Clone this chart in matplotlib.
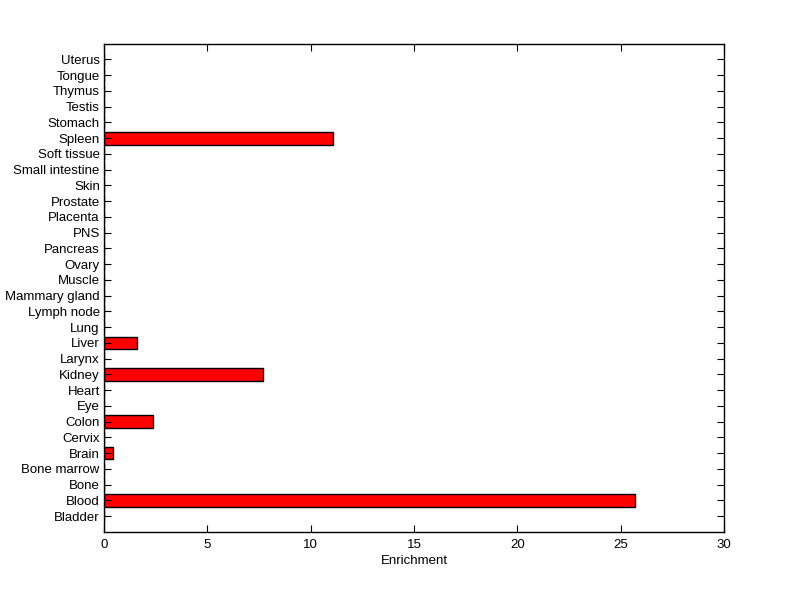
import matplotlib
matplotlib.use('Agg')
import matplotlib.pyplot as plt

tissues = ['Bladder', 'Blood', 'Bone', 'Bone marrow', 'Brain', 'Cervix', 'Colon',
           'Eye', 'Heart', 'Kidney', 'Larynx', 'Liver', 'Lung', 'Lymph node',
           'Mammary gland', 'Muscle', 'Ovary', 'Pancreas', 'PNS', 'Placenta',
           'Prostate', 'Skin', 'Small intestine', 'Soft tissue', 'Spleen',
           'Stomach', 'Testis', 'Thymus', 'Tongue', 'Uterus']
enrichment = [0, 25.67, 0, 0, 0.45, 0, 2.35, 0, 0, 7.68, 0, 1.62, 0, 0,
              0, 0, 0, 0, 0, 0, 0, 0, 0, 0, 11.07, 0, 0, 0, 0, 0]

plt.rcParams['font.family'] = ['Liberation Sans', 'DejaVu Sans']
plt.rcParams['font.size'] = 9.5

fig = plt.figure(figsize=(8, 5.99), dpi=100)
ax = fig.add_axes([0.13, 0.112, 0.775, 0.815])

pos = list(range(1, len(tissues) + 1))
ax.barh(pos, enrichment, height=0.8, color='red', edgecolor='black', linewidth=1)

ax.set_xlim(0, 30)
ax.set_ylim(0, len(tissues) + 1)
ax.set_yticks(pos)
ax.set_yticklabels(tissues)
ax.set_xticks([0, 5, 10, 15, 20, 25, 30])
ax.set_xlabel('Enrichment', labelpad=3)
ax.tick_params(direction='in', length=5, top=True, right=True, colors='black')
ax.tick_params(axis='y', pad=3)
ax.tick_params(axis='x', pad=5)
for s in ax.spines.values():
    s.set_linewidth(1)

fig.savefig('out.png', dpi=100)
